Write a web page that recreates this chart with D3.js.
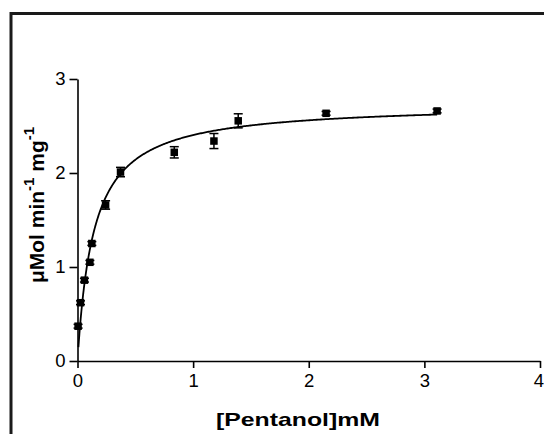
<!DOCTYPE html>
<html>
<head>
<meta charset="utf-8">
<script src="https://cdn.jsdelivr.net/npm/d3@7"></script>
<style>
  html, body { margin: 0; padding: 0; background: #fff; }
  svg { display: block; }
  text { font-family: "Liberation Sans", Arial, sans-serif; fill: #000; }
</style>
</head>
<body>
<svg id="chart" width="544" height="434"></svg>
<script>
// ---- data ----
const concentration = [0.005, 0.026, 0.06, 0.107, 0.124, 0.243, 0.372, 0.837, 1.18, 1.39, 2.15, 3.11];
const rate          = [0.37, 0.62, 0.86, 1.05, 1.25, 1.66, 2.01, 2.22, 2.34, 2.555, 2.635, 2.66];
const rateError     = [0.02, 0.02, 0.02, 0.02, 0.02, 0.045, 0.05, 0.06, 0.08, 0.075, 0.02, 0.02];
const xTicks = [0, 1, 2, 3, 4];
const yTicks = [0, 1, 2, 3];
// Michaelis-Menten fit parameters
const vmax = 2.74;
const km = 0.14;
const curveStart = 0.008;
const curveEnd = 3.11;

const svg = d3.select("#chart");

// outer frame
svg.append("rect")
  .attr("x", 11).attr("y", 13.5)
  .attr("width", 560).attr("height", 460)
  .attr("fill", "none").attr("stroke", "#1a1a1a").attr("stroke-width", 3);

const x = d3.scaleLinear().domain([0, 4]).range([77.5, 540]);
const y = d3.scaleLinear().domain([0, 3]).range([361, 79]);

// axes
const xAxis = svg.append("g").attr("transform", `translate(0,${y(0)})`)
  .call(d3.axisBottom(x).tickValues(xTicks).tickFormat(d3.format("d")).tickSize(7).tickSizeOuter(0).tickPadding(6));
const yAxis = svg.append("g").attr("transform", `translate(${x(0)},0)`)
  .call(d3.axisLeft(y).tickValues(yTicks).tickFormat(d3.format("d")).tickSize(8).tickSizeOuter(0).tickPadding(4));
[xAxis, yAxis].forEach(g => {
  g.select(".domain").attr("stroke", "#000").attr("stroke-width", 1.6);
  g.selectAll(".tick line").attr("stroke", "#000").attr("stroke-width", 1.6);
  g.selectAll(".tick text").attr("font-family", "Liberation Sans, Arial, sans-serif")
    .attr("font-size", 18.5).attr("fill", "#000");
});
// last x tick label sits right at the window edge, as in the reference
xAxis.selectAll(".tick text").filter(d => d === 4).attr("dx", -1.5);

// fitted curve
const curveX = d3.range(0, 401).map(i => curveStart + (curveEnd - curveStart) * Math.pow(i / 400, 2));
const line = d3.line().x(d => x(d)).y(d => y(vmax * d / (km + d))).curve(d3.curveLinear);
svg.append("path").datum(curveX).attr("d", line)
  .attr("fill", "none").attr("stroke", "#000").attr("stroke-width", 1.8);

// error bars
const pts = concentration.map((c, i) => ({ c, v: rate[i], e: rateError[i] }));
const eb = svg.append("g").attr("stroke", "#000").attr("stroke-width", 1.5);
pts.forEach(p => {
  eb.append("line").attr("x1", x(p.c)).attr("x2", x(p.c)).attr("y1", y(p.v - p.e)).attr("y2", y(p.v + p.e));
  [p.v - p.e, p.v + p.e].forEach(v => {
    eb.append("line").attr("x1", x(p.c) - 4.5).attr("x2", x(p.c) + 4.5).attr("y1", y(v)).attr("y2", y(v));
  });
});

// markers
const ms = 7.5;
svg.append("g").selectAll("rect").data(pts).join("rect")
  .attr("x", d => x(d.c) - ms / 2).attr("y", d => y(d.v) - ms / 2)
  .attr("width", ms).attr("height", ms).attr("fill", "#000");

// axis titles
svg.append("text")
  .attr("x", 298).attr("y", 426)
  .attr("text-anchor", "middle")
  .attr("font-size", 19).attr("font-weight", "bold")
  .attr("textLength", 164).attr("lengthAdjust", "spacingAndGlyphs")
  .text("[Pentanol]mM");

const yl = svg.append("text")
  .attr("transform", "translate(44,205) rotate(-90)")
  .attr("text-anchor", "middle")
  .attr("font-size", 21).attr("font-weight", "bold");
yl.append("tspan").text("μMol min");
yl.append("tspan").attr("dy", -10).attr("font-size", 15).text("-1");
yl.append("tspan").attr("dy", 10).text(" mg");
yl.append("tspan").attr("dy", -10).attr("font-size", 15).text("-1");
</script>
</body>
</html>
